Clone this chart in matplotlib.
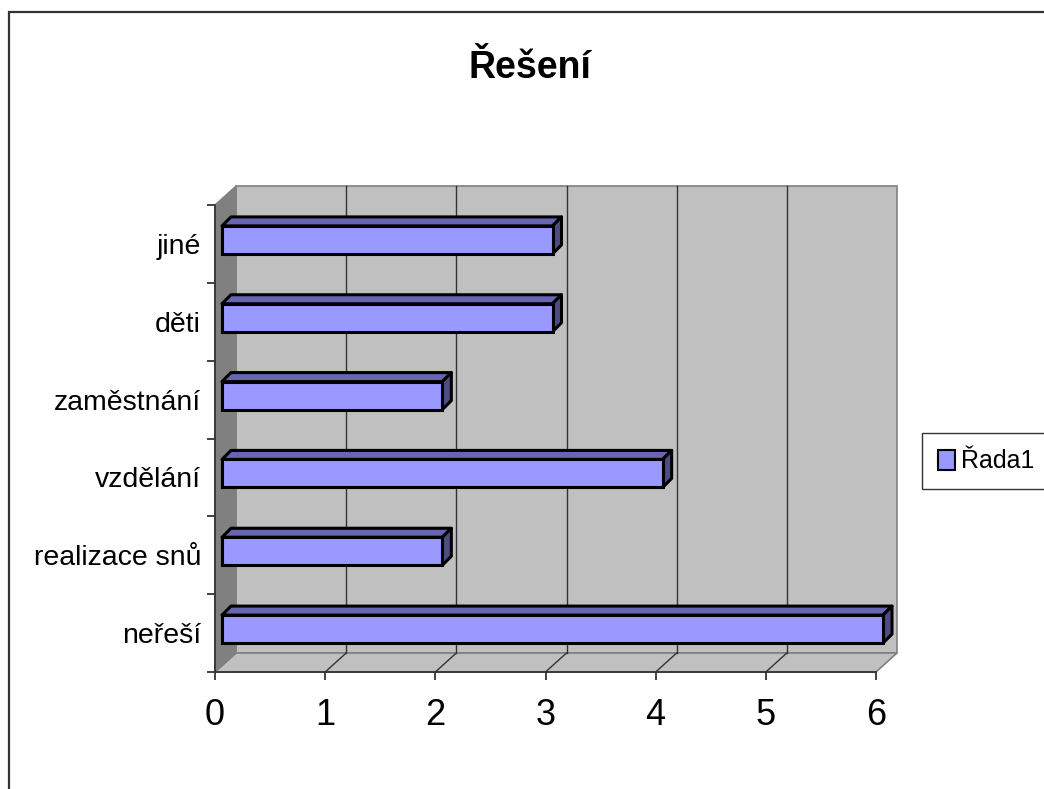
import matplotlib
matplotlib.use("Agg")
import matplotlib.pyplot as plt
from matplotlib.patches import Polygon, Rectangle, Patch
import numpy as np

categories = ['neřeší', 'realizace snů', 'vzdělání', 'zaměstnání', 'děti', 'jiné']
values = [6, 2, 4, 2, 3, 3]
xticks = [0, 1, 2, 3, 4, 5, 6]
title = 'Řešení'
series_name = 'Řada1'

FONT = ['Liberation Sans Narrow', 'Liberation Sans', 'DejaVu Sans']
plt.rcParams['font.family'] = FONT

W, H = 1044, 789
fig = plt.figure(figsize=(W / 100, H / 100), dpi=100)
fig.patch.set_facecolor('white')

# outer chart frame (cut off at right and bottom)
fig.add_artist(Rectangle((9 / W, -0.2), 1.5, 1.2 - 12 / H, transform=fig.transFigure,
                         fill=False, edgecolor='#333333', lw=1.6))

ax = fig.add_axes([215 / W, (H - 672) / H, 661 / W, 467 / H])
ax.set_xlim(0, 6)
ax.set_ylim(-0.5, 5.5)
ax.set_facecolor('none')

xpx = 661 / 6.0
ypx = 467 / 6.0
DX, DY = 21 / xpx, 19 / ypx          # depth of the 3D box
BX0 = 7 / xpx                         # bar front-face start
YOFF = 4 / ypx
BH = 28 / ypx
BDX, BDY = 9 / xpx, 9 / ypx           # bar depth

y0, y1 = -0.5, 5.5
x0, x1 = 0, 6
wall = '#C0C0C0'
edge = '#808080'

# back wall
ax.add_patch(Polygon([(x0 + DX, y0 + DY), (x1 + DX, y0 + DY), (x1 + DX, y1 + DY), (x0 + DX, y1 + DY)],
                     closed=True, facecolor=wall, edgecolor=edge, lw=1.2, zorder=0.5, clip_on=False))
# floor
ax.add_patch(Polygon([(x0, y0), (x1, y0), (x1 + DX, y0 + DY), (x0 + DX, y0 + DY)],
                     closed=True, facecolor=wall, edgecolor=edge, lw=1.2, zorder=0.6, clip_on=False))
# left wall
ax.add_patch(Polygon([(x0, y0), (x0, y1), (x0 + DX, y1 + DY), (x0 + DX, y0 + DY)],
                     closed=True, facecolor='#808080', edgecolor='#808080', lw=1.0, zorder=0.7, clip_on=False))

# gridlines on back wall and floor
for k in xticks[1:-1]:
    ax.plot([k + DX, k + DX], [y0 + DY, y1 + DY], color='#333333', lw=1.0, zorder=0.8, clip_on=False)
for k in xticks[1:-1]:
    ax.plot([k, k + DX], [y0, y0 + DY], color='#333333', lw=1.0, zorder=0.8, clip_on=False)

front_c = '#9999FF'
top_c = '#6666B3'
side_c = '#4D4D80'
for i, v in enumerate(values):
    yc = i + YOFF
    yb, yt = yc - BH / 2, yc + BH / 2
    xl, xr = BX0, BX0 + v
    ax.barh(yc, v, left=xl, height=BH, color=front_c, edgecolor='black', lw=2.2, zorder=3, clip_on=False)
    ax.add_patch(Polygon([(xl, yt), (xr, yt), (xr + BDX, yt + BDY), (xl + BDX, yt + BDY)], closed=True,
                         facecolor=top_c, edgecolor='black', lw=2.2, zorder=2.9, joinstyle='round', clip_on=False))
    ax.add_patch(Polygon([(xr, yb), (xr, yt), (xr + BDX, yt + BDY), (xr + BDX, yb + BDY)], closed=True,
                         facecolor=side_c, edgecolor='black', lw=2.2, zorder=2.9, joinstyle='round', clip_on=False))

# axes
for s in ['top', 'right']:
    ax.spines[s].set_visible(False)
for s in ['left', 'bottom']:
    ax.spines[s].set_color('#333333')
    ax.spines[s].set_linewidth(1.3)
    ax.spines[s].set_zorder(2)

ax.set_xticks(xticks)
ax.set_xticklabels([str(t) for t in xticks], fontsize=26)
ax.tick_params(axis='x', direction='out', length=6, width=1.3, color='#333333', pad=13)

ax.set_yticks(np.arange(-0.5, len(categories), 1.0))
ax.set_yticklabels([])
ax.set_yticks(np.arange(len(categories)), minor=True)
ax.set_yticklabels(categories, minor=True, fontsize=20.5)
ax.tick_params(axis='y', which='major', direction='out', length=6, width=1.3, color='#333333')
ax.tick_params(axis='y', which='minor', length=0, pad=10)

fig.text(530 / W, 1 - 68 / H, title, fontsize=27, fontweight='bold', ha='center', va='center')

handle = Patch(facecolor=front_c, edgecolor='black', lw=1.5)
leg = fig.legend([handle], [series_name], loc='upper left', bbox_to_anchor=(922 / W, 1 - 433 / H),
                 borderaxespad=0, frameon=True, fancybox=False, fontsize=18,
                 handlelength=0.65, handleheight=0.85, handletextpad=0.25, borderpad=0.65)
leg.get_frame().set_edgecolor('black')
leg.get_frame().set_linewidth(1.0)

fig.savefig('out.png', dpi=100, facecolor='white')
